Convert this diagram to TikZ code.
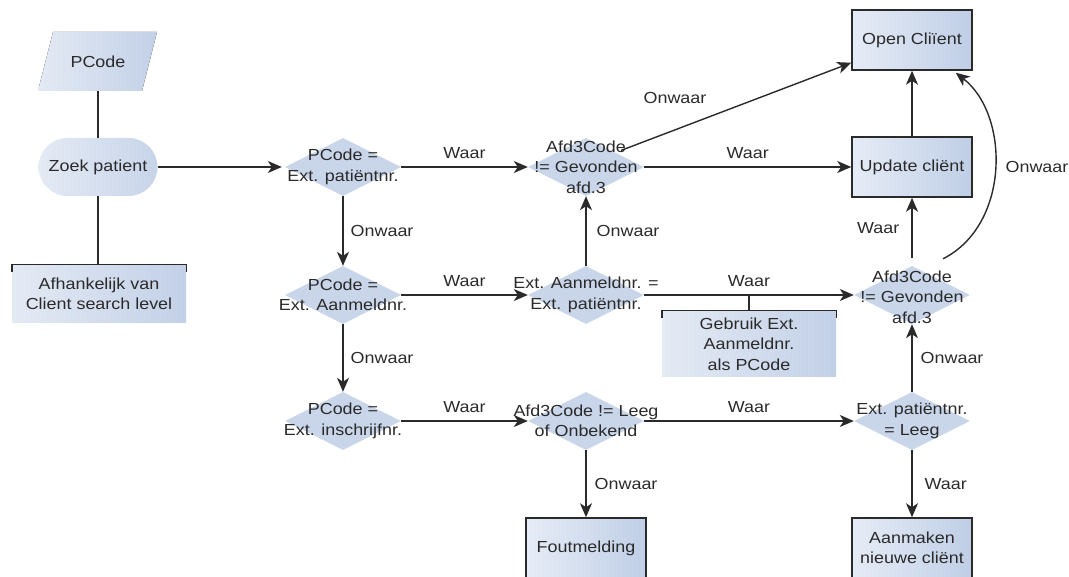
\documentclass[tikz,border=0pt]{standalone}
\usepackage{fontspec}
\setmainfont{Liberation Sans}[FakeStretch=1.12]
\usetikzlibrary{shapes.geometric,arrows.meta}
\definecolor{boxL}{HTML}{E6ECF6}
\definecolor{boxR}{HTML}{BFCEE6}
\definecolor{annL}{HTML}{E4EAF4}
\definecolor{annR}{HTML}{C2D0E7}
\definecolor{dia}{HTML}{C9D6EA}
\definecolor{ink}{HTML}{2A2A2A}
\begin{document}
\begin{tikzpicture}[x=1pt,y=-1pt,
  font=\fontsize{16}{20.5}\selectfont, text=ink,
  proc/.style={draw=ink, line width=1.5pt, left color=boxL, right color=boxR,
    minimum width=120pt, minimum height=60pt, inner sep=0pt, align=center},
  dec/.style={diamond, fill=dia, minimum width=116pt, minimum height=58pt, inner sep=0pt},
  dlabel/.style={align=center, inner sep=0pt},
  annot/.style={left color=annL, right color=annR, minimum width=174pt,
    inner sep=0pt, align=center},
  arr/.style={draw=ink, line width=1.4pt, -{Stealth[length=14pt,width=12pt,inset=4pt]}},
  lnk/.style={draw=ink, line width=1.4pt},
  elab/.style={inner sep=0pt}]
\useasboundingbox (0,0) rectangle (1069,577);
\clip (0,0) rectangle (1069,577);

% PCode parallelogram
\node[minimum width=104pt, minimum height=59pt, inner sep=0pt] (pcode) at (98,61.5) {};
\fill[left color=annL, right color=annR] (38,91) -- (53,32) -- (157,32) -- (142,91) -- cycle;
\node[inner sep=0pt] (pcodet) at (98,61.5) {PCode};

% Zoek patient
\node[minimum width=119pt, minimum height=58pt, rounded corners=29pt, inner sep=0pt,
  left color=annL, right color=annR!85!annL] (zoek) at (98,167) {Zoek patient};

% Afhankelijk annotation
\node[annot, minimum height=58pt] (ann1) at (99,294) {Afhankelijk van\\Client search level};
\draw[lnk] ([yshift=-7pt]ann1.north west) -- (ann1.north west) -- (ann1.north east) -- ([yshift=-7pt]ann1.north east);

% Decisions
\node[dec] (d1) at (343,167) {};
\node[dlabel] (d1t) at (d1) {PCode =\\Ext. patiëntnr.};
\node[dec] (d2) at (343,295) {};
\node[dlabel] (d2t) at (d2) {PCode =\\Ext. Aanmeldnr.};
\node[dec] (d3) at (343,421) {};
\node[dlabel] (d3t) at (d3) {PCode =\\Ext. inschrijfnr.};
\node[dec] (a1) at (586,167) {};
\node[dlabel] (a1t) at (a1) {Afd3Code\\!= Gevonden\\afd.3};
\node[dec] (e1) at (586,295) {};
\node[dlabel] (e1t) at (e1) {Ext. Aanmeldnr. =\\Ext. patiëntnr.};
\node[dec] (l1) at (586,421) {};
\node[dlabel] (l1t) at (l1) {Afd3Code != Leeg\\of Onbekend};
\node[dec] (a2) at (912,295) {};
\node[dlabel] (a2t) at (912,297) {Afd3Code\\!= Gevonden\\afd.3};
\node[dec] (e2) at (912,421) {};
\node[dlabel] (e2t) at (e2) {Ext. patiëntnr.\\= Leeg};

% Processes
\node[proc] (open) at (912,40) {Open Cliïent};
\node[proc] (upd) at (912,167) {Update cliënt};
\node[proc] (fout) at (586,548) {Foutmelding};
\node[proc] (aan) at (912,548) {Aanmaken\\nieuwe cliënt};

% Gebruik annotation
\node[annot, minimum height=66pt] (ann2) at (749,344) {Gebruik Ext.\\Aanmeldnr.\\als PCode};
\draw[lnk] ([yshift=-7pt]ann2.north west) -- (ann2.north west) -- (ann2.north east) -- ([yshift=-7pt]ann2.north east);

% Connectors
\draw[lnk] (pcode.south) -- (zoek.north);
\draw[lnk] (zoek.south) -- (ann1.north -| zoek.south);
\draw[arr] (zoek.east) -- ([xshift=-3pt]d1.west);

\draw[arr] (d1.south) -- node[elab, right=7pt] (l-d1d2) {Onwaar} (d2.north);
\draw[arr] (d2.south) -- node[elab, right=7pt] (l-d2d3) {Onwaar} (d3.north);
\draw[arr] (d1.east) -- node[elab, above=8pt] (l-d1a1) {Waar} (a1.west);
\draw[arr] (d2.east) -- node[elab, above=8pt] (l-d2e1) {Waar} (e1.west);
\draw[arr] (d3.east) -- node[elab, above=8pt] (l-d3l1) {Waar} (l1.west);

\draw[arr] (e1.north) -- node[elab, right=10pt] (l-e1a1) {Onwaar} (a1.south);
\draw[arr] (a1.east) -- node[elab, above=8pt] (l-a1upd) {Waar} (upd.west);
\draw[arr] ([xshift=6pt,yshift=2pt]a1.north east) -- ([yshift=8pt]open.south west);
\node[elab] (l-a1open) at (675,98) {Onwaar};
\draw[arr] (upd.north) -- (open.south);

\draw[arr] (e1.east) -- node[elab, above=8pt] (l-e1a2) {Waar} (a2.west);
\coordinate (stem) at (ann2.north |- e1.east);
\draw[lnk] (ann2.north) -- (stem);

\draw[arr] ([yshift=8pt]a2.north) -- node[elab, left=12pt] (l-a2upd) {Waar} (upd.south);
\draw[arr] ([xshift=31pt,yshift=7pt]a2.north) .. controls (1010,225) and (1010,115) .. ([xshift=-17pt,yshift=-2pt]open.south east);
\node[elab] (l-a2open) at (1037,167) {Onwaar};

\draw[arr] (l1.east) -- node[elab, above=8pt] (l-l1e2) {Waar} (e2.west);
\draw[arr] (l1.south) -- node[elab, right=8pt] (l-l1fout) {Onwaar} (fout.north);
\draw[arr] (e2.north) -- node[elab, right=8pt] (l-e2a2) {Onwaar} (a2.south);
\draw[arr] (e2.south) -- node[elab, right=12pt] (l-e2aan) {Waar} (aan.north);
\end{tikzpicture}
\end{document}
